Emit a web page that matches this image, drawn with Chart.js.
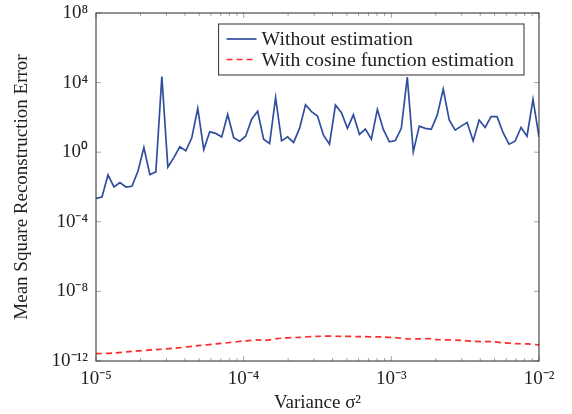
<!DOCTYPE html>
<html>
<head>
<meta charset="utf-8">
<script src="https://cdn.jsdelivr.net/npm/chart.js@4.4.1/dist/chart.umd.min.js"></script>
<style>
  html,body{margin:0;padding:0;background:#fff;}
  #wrap{width:572px;height:414px;}
</style>
</head>
<body>
<div id="wrap"><canvas id="c" width="572" height="414"></canvas></div>
<script>
// ---- data ----
const seriesLabels = ['Without estimation', 'With cosine function estimation'];
const xMin = 1e-5, xMax = 1e-2, nSamples = 75;          // log-spaced variance grid
// log10 of mean square error, "Without estimation", one per grid sample
const withoutLog10 = [
  -2.65,-2.58,-1.31,-2.00,-1.75,-2.00,-1.96,-1.10, 0.27,-1.29,
  -1.13, 4.35,-0.85,-0.31, 0.31, 0.08, 0.83, 2.52, 0.15, 1.17,
   1.08, 0.88, 2.17, 0.83, 0.63, 0.92, 1.90, 2.35, 0.75, 0.50,
   3.13, 0.65, 0.88, 0.56, 1.37, 2.73, 2.33, 2.08, 0.98, 0.46,
   2.71, 2.27, 1.37, 2.15, 1.02, 1.33, 0.75, 2.46, 1.31, 0.60,
   0.67, 1.37, 4.31, 0.02, 1.50, 1.37, 1.31, 2.13, 3.63, 1.85,
   1.27, 1.50, 1.71, 0.65, 1.85, 1.42, 2.04, 2.04, 1.12, 0.46,
   0.63, 1.42, 0.92, 3.04, 0.88
];
// "With cosine function estimation": grid indices and log10 values read at them
const cosineIdx   = [0,3,6,10,13,17,20,22,25,27,28,31,34,37,41,44,48,50,52,54,56,57,61,63,65,66,68,70,72,74];
const cosineLog10 = [-11.58,-11.54,-11.45,-11.35,-11.27,-11.12,-11.02,-10.95,-10.84,-10.79,-10.82,-10.69,-10.64,-10.58,-10.58,
                     -10.60,-10.62,-10.66,-10.73,-10.73,-10.72,-10.77,-10.81,-10.87,-10.89,-10.89,-10.95,-11.00,-11.02,-11.07];
const yTickValues = [1e-12, 1e-8, 1e-4, 1e0, 1e4, 1e8];
const yTickLabels = ['10\u207B\u00B9\u00B2','10\u207B\u2078','10\u207B\u2074','10\u2070','10\u2074','10\u2078'];
const xMajorValues = [1e-5, 1e-4, 1e-3, 1e-2];
const xMajorLabels = ['10\u207B\u2075','10\u207B\u2074','10\u207B\u00B3','10\u207B\u00B2'];
const xTitle = 'Variance \u03C3\u00B2';
const yTitle = 'Mean Square Reconstruction Error';

// ---- build tables ----
const grid = [];
for (let i = 0; i < nSamples; i++) grid.push(Math.pow(10, Math.log10(xMin) + (Math.log10(xMax) - Math.log10(xMin)) * i / (nSamples - 1)));
const withoutPts = withoutLog10.map((v, i) => ({x: grid[i], y: Math.pow(10, v)}));
const cosinePts = cosineIdx.map((gi, k) => ({x: grid[gi], y: Math.pow(10, cosineLog10[k])}));

const FONT = "'Liberation Serif', 'Times New Roman', serif";
const FS = 19;
const LEG_FS = 19.8;
const TXT = '#222222';
const BLUE = '#2f4f9e';
const RED = '#ff2a2a';

const xTickSet = [];
xMajorValues.forEach((d, k) => {
  if (k < xMajorValues.length - 1) { for (let m = 1; m <= 9; m++) xTickSet.push(m * d); }
  else xTickSet.push(d);
});

const framePlugin = {
  id: 'frame',
  afterDatasetsDraw(chart) {
    const {ctx, chartArea: a, scales} = chart;
    ctx.save();
    // ticks
    ctx.strokeStyle = '#9a9a9a';
    ctx.lineWidth = 0.9;
    scales.x.ticks.forEach(t => {
      const px = scales.x.getPixelForValue(t.value);
      const major = xMajorValues.some(v => Math.abs(Math.log10(v) - Math.log10(t.value)) < 1e-9);
      const len = major ? 5 : 3;
      ctx.beginPath();
      ctx.moveTo(px, a.bottom); ctx.lineTo(px, a.bottom - len);
      ctx.moveTo(px, a.top); ctx.lineTo(px, a.top + len);
      ctx.stroke();
    });
    scales.y.ticks.forEach(t => {
      const py = scales.y.getPixelForValue(t.value);
      ctx.beginPath();
      ctx.moveTo(a.left, py); ctx.lineTo(a.left + 5, py);
      ctx.moveTo(a.right, py); ctx.lineTo(a.right - 5, py);
      ctx.stroke();
    });
    // frame
    ctx.strokeStyle = '#3a3a3a';
    ctx.lineWidth = 1.1;
    ctx.strokeRect(a.left, a.top, a.right - a.left, a.bottom - a.top);
    // legend
    const ds = chart.data.datasets;
    ctx.font = LEG_FS + 'px ' + FONT;
    const tw = Math.max(...ds.map(d => ctx.measureText(d.label).width));
    const padL = 8, sample = 30, gap = 5, padR = 10, rowH = 20.5;
    const w = padL + sample + gap + tw + padR;
    const right = a.right - 15, top = a.top + 11;
    const left = right - w, h = 51;
    ctx.fillStyle = '#fff';
    ctx.fillRect(left, top, w, h);
    ctx.strokeStyle = '#404040';
    ctx.lineWidth = 1.1;
    ctx.strokeRect(left, top, w, h);
    ds.forEach((d, i) => {
      const cy = top + 15 + i * rowH;
      ctx.strokeStyle = d.borderColor;
      ctx.lineWidth = d.borderWidth;
      ctx.setLineDash(d.borderDash || []);
      ctx.beginPath();
      ctx.moveTo(left + padL, cy); ctx.lineTo(left + padL + sample, cy);
      ctx.stroke();
      ctx.setLineDash([]);
      ctx.fillStyle = TXT;
      ctx.textBaseline = 'middle';
      ctx.textAlign = 'left';
      ctx.fillText(d.label, left + padL + sample + gap, cy + 1);
    });
    ctx.restore();
  }
};

new Chart(document.getElementById('c'), {
  type: 'line',
  data: {
    datasets: [
      {label: seriesLabels[0], data: withoutPts, borderColor: BLUE, borderWidth: 1.7, pointRadius: 0, fill: false, tension: 0},
      {label: seriesLabels[1], data: cosinePts, borderColor: RED, borderWidth: 1.7, borderDash: [6, 4], pointRadius: 0, fill: false, tension: 0.3}
    ]
  },
  options: {
    responsive: false,
    animation: false,
    devicePixelRatio: 1,
    layout: {padding: {top: 13, right: 33, left: 0, bottom: 0}},
    plugins: {legend: {display: false}, tooltip: {enabled: false}},
    scales: {
      x: {
        type: 'logarithmic', min: xMin, max: xMax,
        afterBuildTicks: s => { s.ticks = xTickSet.map(v => ({value: v})); },
        afterFit: s => { s.height = 53; s.paddingLeft = 0; s.paddingRight = 0; },
        grid: {display: false, drawTicks: false},
        border: {display: false},
        ticks: {
          autoSkip: false, maxRotation: 0, padding: 7, color: TXT,
          font: {family: FONT, size: FS},
          callback: v => { const k = xMajorValues.findIndex(m => Math.abs(Math.log10(m) - Math.log10(v)) < 1e-9); return k >= 0 ? xMajorLabels[k] : ''; }
        },
        title: {display: true, text: xTitle, color: TXT, font: {family: FONT, size: FS}, padding: {top: 0, bottom: 0}}
      },
      y: {
        type: 'logarithmic', min: 1e-12, max: 1e8,
        afterBuildTicks: s => { s.ticks = yTickValues.map(v => ({value: v})); },
        afterFit: s => { s.width = 96; s.paddingTop = 0; s.paddingBottom = 0; },
        grid: {display: false, drawTicks: false},
        border: {display: false},
        ticks: {
          autoSkip: false, padding: 8, color: TXT,
          font: {family: FONT, size: FS},
          callback: v => { const k = yTickValues.findIndex(m => Math.abs(Math.log10(m) - Math.log10(v)) < 1e-9); return k >= 0 ? yTickLabels[k] : ''; }
        },
        title: {display: true, text: yTitle, color: TXT, font: {family: FONT, size: FS}, padding: {top: 11, bottom: 0}}
      }
    }
  },
  plugins: [framePlugin]
});
</script>
</body>
</html>
